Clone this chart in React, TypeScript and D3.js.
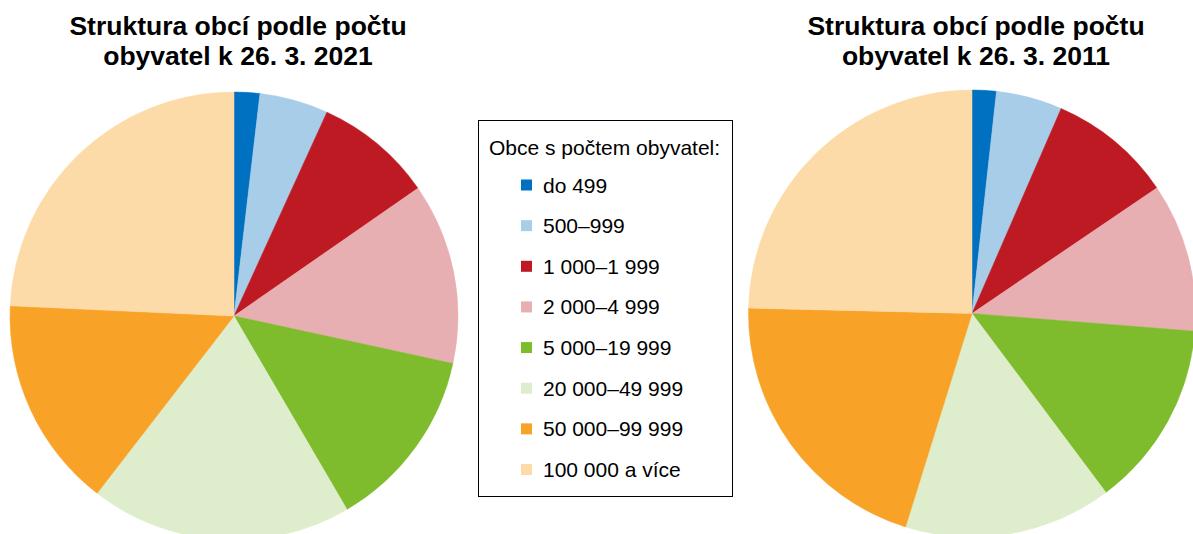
import React from "react";
import * as d3 from "d3";

const categories = [
  "do 499",
  "500–999",
  "1 000–1 999",
  "2 000–4 999",
  "5 000–19 999",
  "20 000–49 999",
  "50 000–99 999",
  "100 000 a více",
];
const values2021 = [1.85, 4.96, 8.53, 13.06, 13.19, 18.88, 15.26, 24.28];
const values2011 = [1.75, 4.78, 8.97, 10.76, 13.51, 15.03, 20.58, 24.61];
const colors = ["#0070c0", "#a7cde8", "#be1a23", "#e8afb2", "#7ebc2d", "#deedcb", "#f9a228", "#fcdba9"];
const title2021 = ["Struktura obcí podle počtu", "obyvatel k 26. 3. 2021"];
const title2011 = ["Struktura obcí podle počtu", "obyvatel k 26. 3. 2011"];
const legendTitle = "Obce s počtem obyvatel:";

const FONT = "'Liberation Sans', Arial, sans-serif";

function Pie({ values, cx, cy, r, title }: { values: number[]; cx: number; cy: number; r: number; title: string[] }) {
  const pie = d3.pie<number>().sort(null).value((d) => d);
  const arcs = pie(values);
  const arc = d3.arc<d3.PieArcDatum<number>>().innerRadius(0).outerRadius(r);
  return (
    <g>
      <g transform={`translate(${cx},${cy})`}>
        {arcs.map((a, i) => (
          <path key={i} d={arc(a) || ""} fill={colors[i]} stroke={colors[i]} strokeWidth={0.5} />
        ))}
      </g>
      {title.map((t, i) => (
        <text key={i} x={cx + 4} y={35 + i * 30} textAnchor="middle" fontFamily={FONT} fontWeight="bold" fontSize={26.5} fill="#000">
          {t}
        </text>
      ))}
    </g>
  );
}

export default function App() {
  const legendY = d3.scaleLinear().domain([0, categories.length - 1]).range([185, 469.5]);
  return (
    <svg width={1193} height={534} style={{ position: "absolute", left: 0, top: 0, background: "#fff" }}>
      <Pie values={values2021} cx={234} cy={316} r={224} title={title2021} />
      <Pie values={values2011} cx={972} cy={313.5} r={223.5} title={title2011} />
      <rect x={478.5} y={120.5} width={254} height={376} fill="#fff" stroke="#000" strokeWidth={1} />
      <text x={489} y={155} fontFamily={FONT} fontSize={21} fill="#000">
        {legendTitle}
      </text>
      {categories.map((c, i) => (
        <g key={c}>
          <rect x={521} y={legendY(i) - 5.5} width={11} height={11} fill={colors[i]} />
          <text x={543} y={legendY(i) + 7.5} fontFamily={FONT} fontSize={21} fill="#000">
            {c}
          </text>
        </g>
      ))}
    </svg>
  );
}
